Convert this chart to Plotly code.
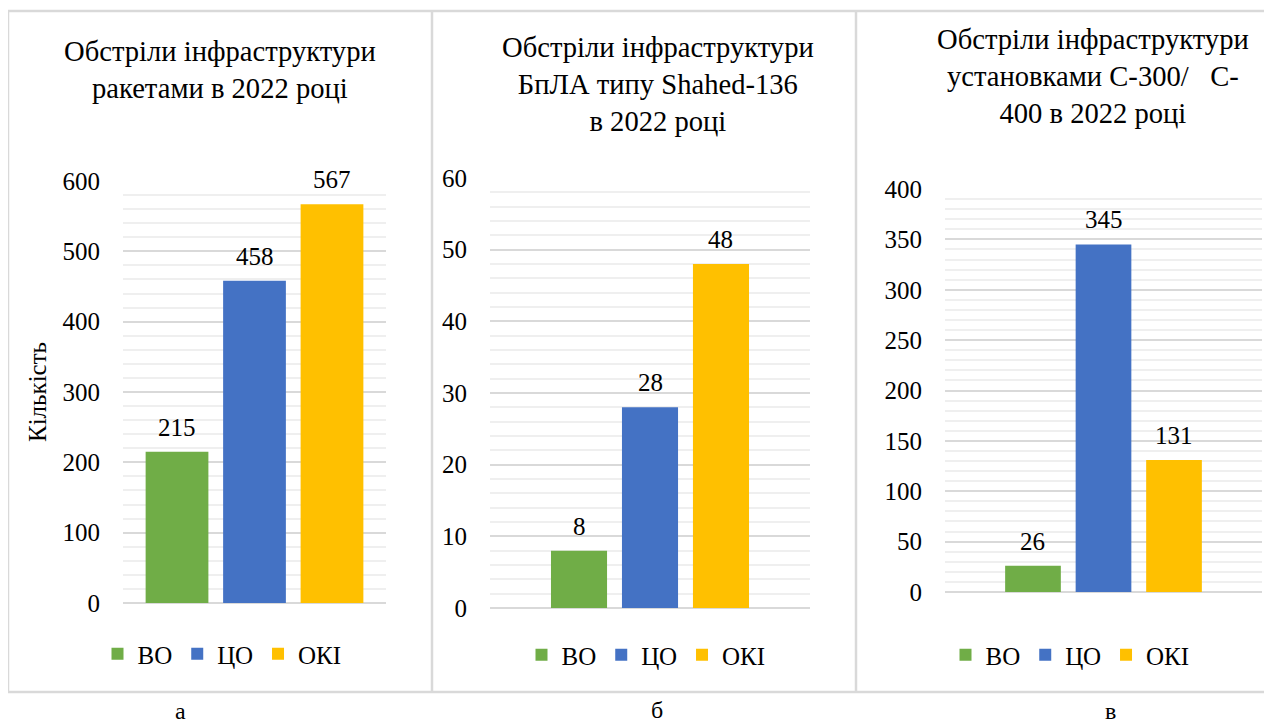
import plotly.graph_objects as go

W, H = 1264, 716
OFF = 8  # page body margin of the browser

series = ["ВО", "ЦО", "ОКІ"]
colors = ["#70ad47", "#4472c4", "#ffc000"]

rockets = [215, 458, 567]
shahed = [8, 28, 48]
s300 = [26, 345, 131]

titles = [
    "Обстріли інфраструктури<br>ракетами в 2022 році",
    "Обстріли інфраструктури<br>БпЛА типу Shahed-136<br>в 2022 році",
    "Обстріли інфраструктури<br>установками С-300/\u00a0\u00a0 С-<br>400 в 2022 році",
]
captions = ["а", "б", "в"]
y_title = "Кількість"

FONT = "Liberation Serif, Times New Roman, serif"

def px_x(p):
    return (p - OFF) / W

def px_y(p):
    return 1 - (p - OFF) / H

panels = [
    dict(data=rockets, xdom=(123, 386), ydom=(181, 603), yrange=(0, 600), dtick=100, minor=20,
         xr=(-0.697, 2.697), bw=0.81, title_xy=(220, 70), leg_xy=(222, 654), cap_xy=(180, 711)),
    dict(data=shahed, xdom=(490, 810), ydom=(178, 608), yrange=(0, 60), dtick=10, minor=2,
         xr=(-1.254, 3.254), bw=0.79, title_xy=(658, 84), leg_xy=(646, 655), cap_xy=(657, 710)),
    dict(data=s300, xdom=(945, 1262), ydom=(189, 592), yrange=(0, 400), dtick=50, minor=10,
         xr=(-1.248, 3.248), bw=0.79, title_xy=(1093, 77), leg_xy=(1070, 655), cap_xy=(1110, 711)),
]

fig = go.Figure()
annotations = []
layout = {}

for i, p in enumerate(panels):
    k = "" if i == 0 else str(i + 1)
    xa, ya = "x" + k, "y" + k
    leg = "legend" + k
    for name, val, col in zip(series, p["data"], colors):
        fig.add_trace(go.Bar(
            x=[name], y=[val], name=name, marker=dict(color=col, line=dict(width=0)),
            width=p["bw"], xaxis=xa, yaxis=ya, legend=leg, showlegend=True,
            hoverinfo="skip",
        ))
        annotations.append(dict(
            x=name, y=val, xref=xa, yref=ya, text=str(val), showarrow=False,
            yanchor="bottom", yshift=9, font=dict(family=FONT, size=25, color="black"),
        ))
    layout["xaxis" + k] = dict(
        domain=[px_x(p["xdom"][0]), px_x(p["xdom"][1])], anchor=ya,
        type="category", range=list(p["xr"]), showticklabels=False,
        showgrid=False, zeroline=False, showline=False, ticks="", automargin=False,
    )
    layout["yaxis" + k] = dict(
        domain=[px_y(p["ydom"][1]), px_y(p["ydom"][0])], anchor=xa,
        range=list(p["yrange"]), dtick=p["dtick"], tick0=0,
        showgrid=True, gridcolor="#d9d9d9", gridwidth=1.5,
        zeroline=True, zerolinecolor="#d9d9d9", zerolinewidth=1.5,
        showline=False, ticks="", ticklabelstandoff=22, automargin=False,
        tickfont=dict(family=FONT, size=25, color="black"),
        minor=dict(dtick=p["minor"], showgrid=True, gridcolor="#efefef", gridwidth=1.5),
    )
    layout[leg] = dict(
        orientation="h", x=px_x(p["leg_xy"][0]), y=px_y(p["leg_xy"][1]),
        xanchor="center", yanchor="middle", bgcolor="rgba(0,0,0,0)",
        font=dict(family=FONT, size=25, color="black"), itemwidth=30,
        traceorder="normal", tracegroupgap=0,
    )
    annotations.append(dict(
        x=px_x(p["title_xy"][0]), y=px_y(p["title_xy"][1]), xref="paper", yref="paper",
        text=titles[i], showarrow=False, xanchor="center", yanchor="middle", align="center",
        font=dict(family=FONT, size=28.6, color="black"),
    ))
    annotations.append(dict(
        x=px_x(p["cap_xy"][0]), y=px_y(p["cap_xy"][1]), xref="paper", yref="paper",
        text=captions[i], showarrow=False, xanchor="center", yanchor="middle", borderpad=0,
        font=dict(family=FONT, size=24, color="black"),
    ))

annotations.append(dict(
    x=px_x(37), y=px_y(392), xref="paper", yref="paper", text=y_title, textangle=-90,
    showarrow=False, xanchor="center", yanchor="middle",
    font=dict(family=FONT, size=25, color="black"),
))

border = dict(color="#d9d9d9", width=2.5)
shapes = [
    dict(type="line", xref="paper", yref="paper", x0=px_x(8), x1=1, y0=px_y(11), y1=px_y(11), line=border),
    dict(type="line", xref="paper", yref="paper", x0=px_x(8), x1=1, y0=px_y(692), y1=px_y(692), line=border),
]
for xv in [8, 432, 856]:
    shapes.append(dict(type="line", xref="paper", yref="paper", x0=px_x(xv), x1=px_x(xv),
                       y0=px_y(692), y1=px_y(11), line=border))

fig.update_layout(
    width=W, height=H, margin=dict(l=0, r=0, t=0, b=0, pad=0, autoexpand=False),
    paper_bgcolor="white", plot_bgcolor="white",
    barmode="overlay", annotations=annotations, shapes=shapes,
    font=dict(family=FONT, color="black"),
    **layout,
)

fig.write_html("out.html")
